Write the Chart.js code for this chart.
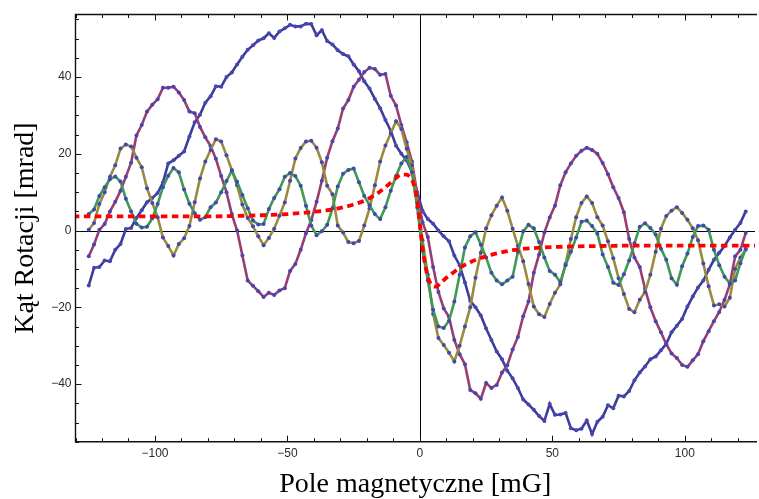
<!DOCTYPE html>
<html>
<head>
<meta charset="utf-8">
<script src="https://cdn.jsdelivr.net/npm/chart.js@4.4.0/dist/chart.umd.min.js"></script>
<style>
  html, body { margin: 0; padding: 0; background: #fff; overflow: hidden; }
  canvas { display: block; }
</style>
</head>
<body>
<canvas id="chart" width="759" height="499"></canvas>
<script>
// Magnetic field sweep [mG]
const fieldMG = [
  -125,-123,-121,-119,-117,-115,-113,-111,-109,-107,
  -105,-103,-101,-99,-97,-95,-93,-91,-89,-87,
  -85,-83,-81,-79,-77,-75,-73,-71,-69,-67,
  -65,-63,-61,-59,-57,-55,-53,-51,-49,-47,
  -45,-43,-41,-39,-37,-35,-33,-31,-29,-27,
  -25,-23,-21,-19,-17,-15,-13,-11,-9,-7,
  -5,-3,-1,1,3,5,7,9,11,13,
  15,17,19,21,23,25,27,29,31,33,
  35,37,39,41,43,45,47,49,51,53,
  55,57,59,61,63,65,67,69,71,73,
  75,77,79,81,83,85,87,89,91,93,
  95,97,99,101,103,105,107,109,111,113,
  115,117,119,121,123
];

// Measured rotation angle [mrad], four runs
const rotationRun1 = [
  -14.3,-9.7,-9.5,-7.8,-8.0,-5.0,-3.5,0.4,0.7,3.3,
  5.3,7.4,8.5,9.8,12.5,17.5,18.3,19.5,20.6,24.5,
  28.2,30.2,33.3,35.0,37.6,37.5,40.0,41.2,43.3,45.3,
  47.1,48.3,49.5,50.1,51.4,50.2,51.9,52.7,53.6,53.2,
  53.2,53.9,53.8,50.9,52.2,49.4,48.5,47.0,46.0,45.4,
  43.3,41.5,38.9,37.0,34.3,31.9,28.8,26.0,22.1,20.0,
  18.3,15.3,10.0,5.2,3.0,1.8,0.0,-1.5,-2.8,-6.5,
  -9.0,-13.5,-18.3,-20.0,-22.1,-25.5,-28.5,-31.5,-33.5,-36.5,
  -38.5,-41.0,-44.0,-45.3,-46.7,-48.3,-49.6,-45.2,-48.0,-47.9,
  -47.5,-51.5,-52.0,-51.6,-49.5,-53.0,-49.8,-48.5,-45.5,-46.3,
  -43.0,-43.2,-41.8,-39.0,-37.0,-35.4,-33.5,-32.8,-31.2,-29.5,
  -26.5,-24.8,-23.0,-19.8,-17.2,-14.8,-13.0,-10.2,-7.6,-5.8,
  -4.0,-1.8,0.2,2.0,5.0
];

const rotationRun2 = [
  -6.7,-3.6,0.2,1.7,5.0,7.5,10.4,14.0,17.7,24.8,
  27.5,31.0,32.8,34.2,37.2,37.2,37.5,36.0,34.0,31.0,
  30.6,27.0,24.3,22.0,18.7,14.2,10.0,4.3,0.0,-6.5,
  -13.0,-14.4,-15.8,-17.3,-16.2,-16.8,-15.6,-15.0,-10.5,-8.7,
  -5.0,-0.7,2.7,7.5,13.0,19.0,23.3,26.6,31.8,34.0,
  37.5,39.3,41.3,42.4,42.1,40.6,40.8,35.1,32.6,27.5,
  23.0,18.0,9.5,2.2,-1.7,-9.5,-16.0,-20.3,-22.5,-28.5,
  -32.2,-34.8,-41.5,-42.4,-43.8,-39.7,-41.0,-40.2,-37.0,-35.1,
  -31.0,-27.7,-22.3,-18.5,-11.0,-6.2,-0.5,3.4,6.5,11.8,
  15.2,17.5,19.5,20.8,21.6,21.0,20.0,17.6,14.7,11.3,
  8.5,4.8,-2.2,-7.0,-9.5,-15.2,-20.0,-23.6,-26.5,-29.6,
  -32.0,-33.2,-35.0,-35.5,-33.8,-32.2,-28.8,-26.2,-23.6,-21.2,
  -18.0,-14.0,-6.7,-5.0,-0.6
];

const rotationRun3 = [
  0.2,2.0,6.9,10.0,14.0,17.0,21.4,22.4,21.9,19.0,
  16.5,11.0,7.2,3.5,-1.8,-4.0,-6.5,-3.5,-2.0,1.2,
  7.4,13.6,18.0,21.0,23.8,23.2,19.6,15.8,11.8,6.8,
  3.3,1.1,-1.5,-3.8,-1.9,0.5,3.9,7.3,13.0,18.8,
  21.5,23.2,23.4,21.6,17.8,11.7,9.5,1.3,-0.5,-3.0,
  -3.3,-2.7,1.3,5.8,11.8,18.0,22.2,25.3,28.5,26.5,
  21.3,17.0,7.5,-2.5,-11.5,-21.7,-28.0,-29.8,-31.8,-34.1,
  -30.0,-25.0,-20.0,-12.3,-5.8,0.6,4.0,6.5,8.6,5.2,
  0.5,-4.0,-8.0,-13.9,-19.8,-21.8,-22.5,-19.1,-16.2,-14.0,
  -8.7,-2.2,3.5,7.2,8.9,7.2,3.5,1.3,-2.8,-7.2,
  -12.4,-16.5,-20.4,-21.3,-18.0,-16.0,-11.5,-5.5,0.5,3.8,
  5.2,6.1,4.6,2.8,0.6,-2.5,-8.6,-14.5,-19.5,-19.2,
  -19.8,-17.5,-10.0,-7.0,-5.0
];

const rotationRun4 = [
  4.3,5.5,9.0,11.3,13.4,14.1,12.8,8.3,5.0,1.8,
  0.8,1.0,3.2,6.9,11.3,14.3,16.3,15.2,10.7,7.0,
  4.5,2.8,3.5,6.1,7.3,10.0,12.9,15.6,12.7,9.3,
  5.8,2.6,1.6,1.7,5.6,8.5,10.8,14.0,15.0,14.2,
  11.7,6.5,1.3,-1.2,-0.2,1.5,5.8,11.5,14.8,15.8,
  16.2,12.6,9.0,6.6,4.3,3.0,6.1,10.4,14.2,17.5,
  19.2,15.2,6.0,-5.2,-13.0,-20.6,-25.0,-25.4,-23.5,-18.5,
  -11.5,-4.4,-1.5,-0.4,-3.7,-7.0,-11.0,-13.0,-14.0,-13.0,
  -12.0,-5.5,-0.2,1.5,0.6,-3.0,-7.0,-10.5,-11.5,-13.4,
  -9.0,-5.5,-1.8,2.3,2.6,1.2,-0.8,-6.2,-9.5,-13.6,
  -14.2,-11.4,-7.8,-3.3,1.0,1.9,0.7,-1.0,-4.7,-7.6,
  -12.4,-14.1,-9.3,-6.0,-1.7,1.2,1.3,0.2,-5.0,-9.0,
  -12.0,-13.8,-13.0,-8.5,-4.7
];

// Model curve (dashed)
const fitField = [
  -131,-120,-110,-100,-90,-80,-70,-60,-50,-40,-35,-30,-25,-20,-16,-12,
  -9,-7,-5,-4,-3,-2,-1,0,1,2,3,4,5,6,8,10,
  13,16,20,25,30,35,40,50,60,70,80,90,100,110,120,128
];
const fitRotation = [
  3.7,3.7,3.7,3.7,3.7,3.7,3.8,4.0,4.3,4.9,5.3,5.9,6.8,8.1,9.7,11.9,
  13.7,14.6,14.6,14.2,13.3,11.3,7.5,1.5,-4.5,-9.0,-12.0,-13.8,-14.5,-14.6,-13.6,-12.3,
  -10.7,-9.3,-7.9,-6.7,-5.8,-5.1,-4.7,-4.3,-4.1,-4.0,-3.9,-3.9,-3.9,-3.9,-3.9,-3.9
];

// Tick labels
const xTickValues = [-100, -50, 0, 50, 100];
const yTickValues = [-40, -20, 0, 20, 40];

const pairs = (xs, ys) => xs.map((x, i) => ({ x: x, y: ys[i] }));
const minusSign = v => String(v).replace('-', '\u2212');

function runDataset(values, color, order) {
  return {
    data: pairs(fieldMG, values),
    borderColor: color,
    borderWidth: 2.6,
    tension: 0,
    pointRadius: 2,
    pointBackgroundColor: '#4646b0',
    pointBorderWidth: 0,
    order: order
  };
}

// Frame with inward ticks plus the zero axes
const framePlugin = {
  id: 'frame',
  beforeDatasetsDraw(chart) {
    const { ctx, chartArea: a, scales: { x, y } } = chart;
    ctx.save();
    ctx.strokeStyle = '#000';
    ctx.lineWidth = 1;
    const x0 = Math.round(x.getPixelForValue(0)) + 0.5;
    const y0 = Math.round(y.getPixelForValue(0)) + 0.5;
    ctx.beginPath();
    ctx.moveTo(x0, a.top); ctx.lineTo(x0, a.bottom);
    ctx.moveTo(a.left, y0); ctx.lineTo(a.right, y0);
    ctx.stroke();
    ctx.restore();
  },
  afterDraw(chart) {
    const { ctx, chartArea: a, scales: { x, y } } = chart;
    ctx.save();
    ctx.strokeStyle = '#111';
    ctx.lineWidth = 1.4;
    ctx.beginPath();
    ctx.moveTo(a.right + 2, a.top); ctx.lineTo(a.left, a.top);
    ctx.lineTo(a.left, a.bottom); ctx.lineTo(a.right + 2, a.bottom);
    ctx.stroke();

    ctx.lineWidth = 1;
    ctx.beginPath();
    for (let v = Math.ceil(x.min / 10) * 10; v <= x.max; v += 10) {
      const px = Math.round(x.getPixelForValue(v)) + 0.5;
      const len = v % 50 === 0 ? 6 : 3.5;
      ctx.moveTo(px, a.bottom); ctx.lineTo(px, a.bottom - len);
      ctx.moveTo(px, a.top); ctx.lineTo(px, a.top + len);
    }
    for (let v = Math.ceil(y.min / 5) * 5; v <= y.max; v += 5) {
      const py = Math.round(y.getPixelForValue(v)) + 0.5;
      const len = v % 20 === 0 ? 6 : 3.5;
      ctx.moveTo(a.left, py); ctx.lineTo(a.left + len, py);
    }
    ctx.stroke();
    ctx.restore();
  }
};

new Chart(document.getElementById('chart'), {
  type: 'line',
  data: {
    datasets: [
      {
        data: pairs(fitField, fitRotation),
        borderColor: '#ff0000',
        borderWidth: 3.8,
        borderDash: [6.5, 4.5],
        pointRadius: 0,
        cubicInterpolationMode: 'monotone',
        order: 0
      },
      runDataset(rotationRun4, '#3d9954', 1),
      runDataset(rotationRun3, '#998b3d', 2),
      runDataset(rotationRun2, '#993d71', 3),
      runDataset(rotationRun1, '#3d3d99', 4)
    ]
  },
  options: {
    responsive: false,
    animation: false,
    devicePixelRatio: 1,
    layout: { padding: { top: 14.5, left: 0, right: 0, bottom: 0 } },
    plugins: { legend: { display: false }, tooltip: { enabled: false } },
    scales: {
      x: {
        type: 'linear',
        min: -130,
        max: 126.5,
        grid: { display: false, drawTicks: false },
        border: { display: false },
        afterBuildTicks: s => { s.ticks = xTickValues.map(v => ({ value: v })); },
        afterFit: s => { s.height = 57.3; },
        ticks: {
          padding: 5,
          maxRotation: 0,
          autoSkip: false,
          color: '#2a2a2a',
          font: { family: 'Liberation Sans', size: 12 },
          callback: v => minusSign(v)
        },
        title: {
          display: true,
          text: 'Pole magnetyczne [mG]',
          color: '#000',
          font: { family: 'Liberation Serif', size: 28, lineHeight: 1 },
          padding: { top: 0, bottom: 0 }
        }
      },
      y: {
        type: 'linear',
        min: -55,
        max: 56.3,
        grid: { display: false, drawTicks: false },
        border: { display: false },
        afterBuildTicks: s => { s.ticks = yTickValues.map(v => ({ value: v })); },
        afterFit: s => { s.width = 75.5; },
        ticks: {
          padding: 4,
          color: '#2a2a2a',
          font: { family: 'Liberation Sans', size: 12 },
          callback: v => minusSign(v)
        },
        title: {
          display: true,
          text: 'Kąt Rotacji [mrad]',
          color: '#000',
          font: { family: 'Liberation Serif', size: 28, lineHeight: 1 },
          padding: { top: 12, bottom: 0 }
        }
      }
    }
  },
  plugins: [framePlugin]
});
</script>
</body>
</html>
